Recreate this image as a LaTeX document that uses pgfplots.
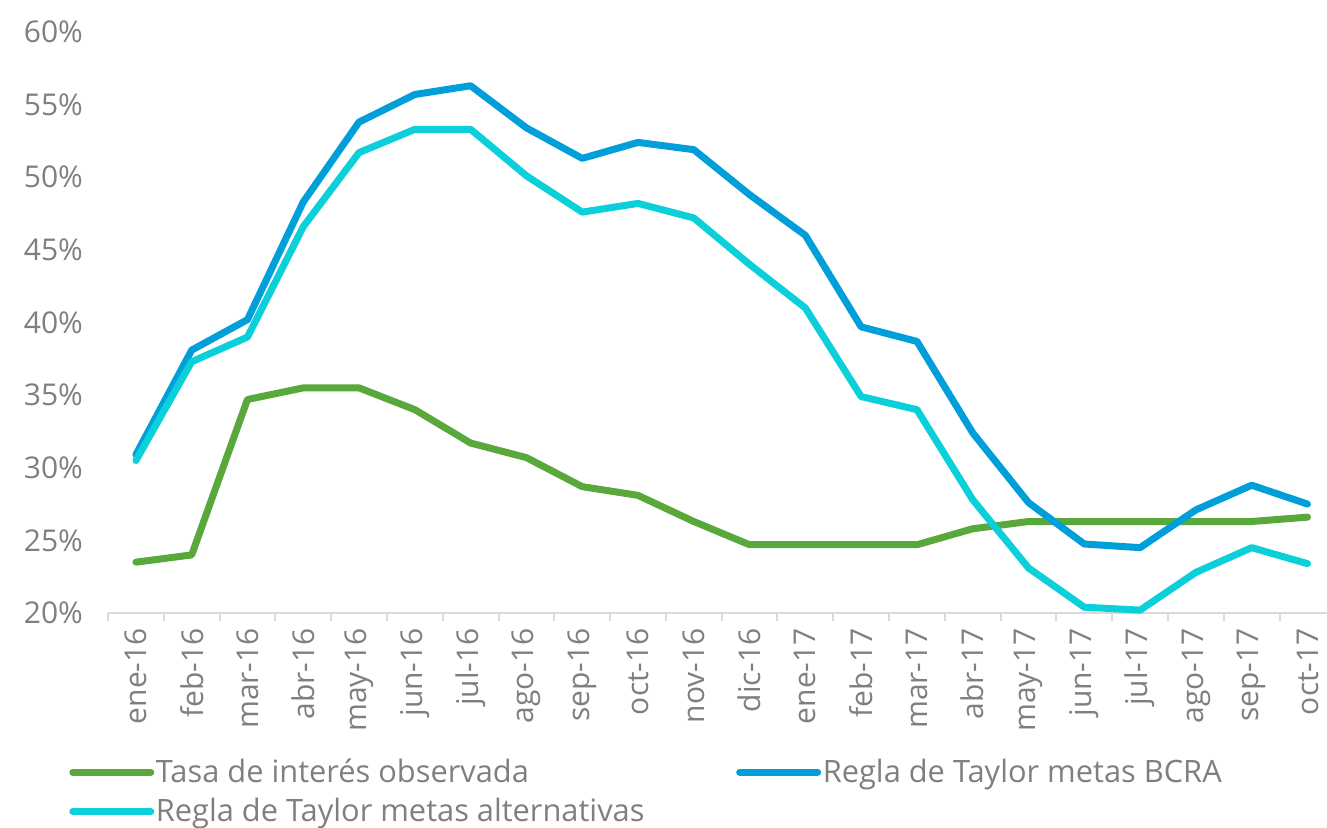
\documentclass[border=0pt]{standalone}
\usepackage{pgfplots}
\pgfplotsset{compat=1.18}
\usepackage{fontspec}
\setmainfont{Open Sans}
\definecolor{cgreen}{HTML}{58A83B}
\definecolor{cblue}{HTML}{009FDA}
\definecolor{ccyan}{HTML}{0BCFD9}
\definecolor{ctext}{HTML}{7F7F7F}
\definecolor{caxis}{HTML}{D9D9D9}
\begin{document}
\begin{tikzpicture}[x=1pt,y=1pt]
\path[use as bounding box] (-54,-107) rectangle (609.5,306.5);
\begin{axis}[at={(0,0)}, anchor=south west, scale only axis,
  width=609.5pt, height=290.5pt,
  xmin=-0.5, xmax=21.35, ymin=20, ymax=60,
  axis x line*=bottom, axis y line*=left,
  x axis line style={caxis, line width=1pt},
  y axis line style={draw=none},
  clip=false,
  xtick={0,...,21},
  xticklabels={ene-16,feb-16,mar-16,abr-16,may-16,jun-16,jul-16,ago-16,sep-16,oct-16,nov-16,dic-16,ene-17,feb-17,mar-17,abr-17,may-17,jun-17,jul-17,ago-17,sep-17,oct-17},
  minor xtick={-0.5,0.5,...,21.5},
  major tick length=0pt, minor tick length=4pt,
  tick align=outside,
  minor tick style={caxis, line width=1pt},
  ytick={20,25,...,60},
  yticklabels={20\%,25\%,30\%,35\%,40\%,45\%,50\%,55\%,60\%},
  ytick style={draw=none},
  ticklabel style={font=\fontsize{15}{18}\selectfont, text=ctext},
  xticklabel style={rotate=90, anchor=east, yshift=0pt, xshift=-4pt},
  yticklabel style={xshift=-9pt},
  legend style={at={(-0.037,-0.24)}, anchor=north west, draw=none, fill=none,
    font=\fontsize{15.4}{18}\selectfont, text=ctext, legend columns=2,
    /tikz/every even column/.append style={column sep=45pt},
    nodes={inner xsep=0.8pt, inner ysep=1pt}, row sep=4.5pt},
  legend cell align=left,
  legend image code/.code={\draw[#1, line width=3.5pt] (0pt,0pt) -- (39pt,0pt);},
]
\addplot[cgreen, line width=3.5pt, line join=round, line cap=round] table {
x y
0 23.5
1 24.0
2 34.7
3 35.5
4 35.5
5 34.0
6 31.7
7 30.7
8 28.7
9 28.1
10 26.3
11 24.7
12 24.7
13 24.7
14 24.7
15 25.8
16 26.3
17 26.3
18 26.3
19 26.3
20 26.3
21 26.6
};
\addlegendentry{Tasa de interés observada}
\addplot[cblue, line width=3.5pt, line join=round, line cap=round] table {
x y
0 30.9
1 38.1
2 40.2
3 48.3
4 53.8
5 55.7
6 56.3
7 53.4
8 51.3
9 52.4
10 51.9
11 48.8
12 46.0
13 39.7
14 38.7
15 32.4
16 27.6
17 24.75
18 24.5
19 27.1
20 28.8
21 27.5
};
\addlegendentry{Regla de Taylor metas BCRA}
\addplot[ccyan, line width=3.5pt, line join=round, line cap=round] table {
x y
0 30.5
1 37.3
2 39.0
3 46.6
4 51.7
5 53.3
6 53.3
7 50.1
8 47.6
9 48.2
10 47.2
11 44.0
12 41.0
13 34.9
14 34.0
15 27.8
16 23.1
17 20.4
18 20.2
19 22.8
20 24.5
21 23.4
};
\addlegendentry{Regla de Taylor metas alternativas}
\end{axis}
\end{tikzpicture}
\end{document}
